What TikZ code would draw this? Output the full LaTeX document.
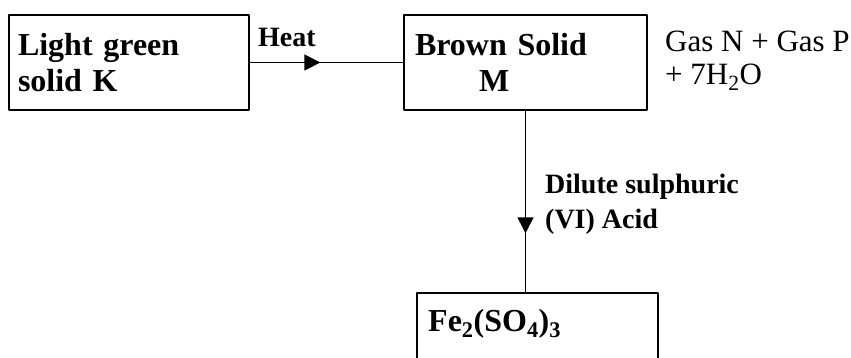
\documentclass[tikz,border=0pt]{standalone}
\usepackage{fontspec}
\setmainfont{Liberation Serif}
\usetikzlibrary{arrows.meta,decorations.markings,positioning}
\tikzset{
  every picture/.append style={line cap=round,line join=round},
  flow box/.style={draw,line width=1.5pt,rectangle,inner ysep=0pt,inner xsep=9pt,
    minimum width=240pt,minimum height=95pt,align=left,
    font=\fontsize{32}{36}\selectfont\bfseries},
  flow name/.style={anchor=north west,inner sep=0pt,font=\fontsize{32}{36}\selectfont\bfseries},
  flow note/.style={anchor=north west,inner sep=0pt,align=left,
    font=\fontsize{28}{35}\selectfont\bfseries},
  flow gas/.style={anchor=north west,inner sep=0pt,align=left,
    font=\fontsize{31}{33}\selectfont},
  flow arrow/.style={line width=1.5pt,postaction={decorate},
    decoration={markings,mark=at position #1 with {\arrow{Triangle[length=16pt,width=16pt]}}}}
}

\begin{document}
\begin{tikzpicture}[x=1pt,y=-1pt]
  \clip (0,0) rectangle (851,358);
  \node[flow box, text width=222pt] (k) at (129,62.5) {Light green\\solid K};
  \node[flow box, minimum width=243pt, inner xsep=11pt, text width=221pt] (m) at (525.5,62.5)
    {Brown Solid\\\hspace*{2em}M};
  \node[flow box, minimum width=241pt, minimum height=120pt, anchor=north] (fe) at (537.5,292) {};
  \node[flow name] (fename) at (428,309) {Fe\textsubscript{2}(SO\textsubscript{4})\textsubscript{3}};
  \node[flow note] (heat) at (258,28) {Heat};
  \node[flow gas] (gases) at (665,31) {Gas N + Gas P\\+ 7H\textsubscript{2}O};
  \node[flow note] (acid) at (545,174) {Dilute sulphuric\\(VI) Acid};
  \draw[flow arrow=0.46] (k.east) -- (m.west);
  \draw[flow arrow=0.676] (m.south) -- (m.south |- fe.north);
\end{tikzpicture}
\end{document}
